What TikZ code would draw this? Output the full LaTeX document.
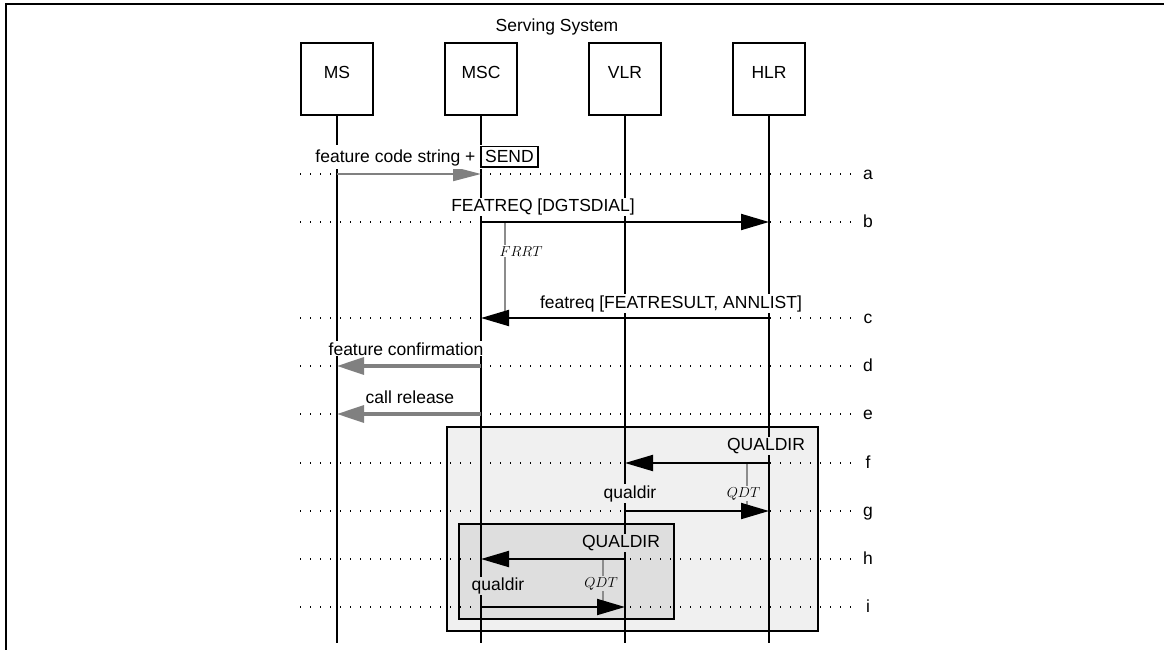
\documentclass[tikz,border=0pt]{standalone}
\usepackage{fontspec}
\setmainfont{Liberation Sans}
\usetikzlibrary{positioning,arrows.meta}

\definecolor{outerbg}{gray}{0.94}
\definecolor{innerbg}{gray}{0.87}
\definecolor{airgray}{gray}{0.5}
\definecolor{timergray}{gray}{0.55}

\begin{document}
\begin{tikzpicture}[
    x=1pt, y=-1pt,
    font=\fontsize{17.5}{20}\selectfont,
    entity/.style={
        draw,
        line width=2pt,
        minimum width=72pt,
        minimum height=72pt,
        text height=10pt,
        text depth=10pt
    },
    life/.style={line width=2pt},
    row/.style={line width=1.2pt, dash pattern=on 1.2pt off 8.8pt},
    rowlbl/.style={anchor=base, inner sep=0pt},
    msg/.style={line width=2pt, -{Triangle[length=28pt,width=16pt]}},
    air/.style={draw=airgray, line width=2pt, -{Triangle[length=28pt,width=14pt]}},
    airthick/.style={draw=airgray, line width=3.3pt, -{Triangle[length=27pt,width=17pt]}},
    lbl/.style={anchor=base, fill=white, inner sep=1pt},
    timer/.style={draw=timergray, line width=1.5pt},
    tlbl/.style={anchor=base, fill=white, inner sep=1pt, font=\fontsize{15}{17}\selectfont},
    area/.style={draw, line width=2pt}
]

\useasboundingbox (0,0) rectangle (1164,650);

%------------------------------------------------
% Frame and entities
%------------------------------------------------

\draw[line width=2.5pt] (6,650) -- (6,4) -- (1164,4);

\node[anchor=base] (sys) at (557,31.7) {Serving System};

\node[entity] (ms) at (337,79) {MS};
\node[entity,right=70pt of ms] (msc) {MSC};
\node[entity,right=70pt of msc] (vlr) {VLR};
\node[entity,right=70pt of vlr] (hlr) {HLR};

\coordinate (bottom) at (0,643);

%------------------------------------------------
% Qualification areas
%------------------------------------------------

\draw[area,fill=outerbg] (446.7,427) rectangle (817.7,631);
\draw[area,fill=innerbg] (459,524) rectangle (674,619);

%------------------------------------------------
% Rows
%------------------------------------------------

\foreach \r/\y in {a/174,b/222,c/318,d/366,e/414,f/463,g/511,h/559,i/607}
{
\coordinate (row-\r) at (300,\y);
\draw[row] (row-\r) -- (852,\y);
\node[rowlbl] (lbl-\r) at (868,\y+5) {\r};
}

\foreach \x in {ms,msc,vlr,hlr}
\draw[life] (\x.south) -- (\x.south |- bottom);

%------------------------------------------------
% Feature request
%------------------------------------------------

\coordinate (frrt) at (505,0);
\draw[timer] (frrt |- row-b) -- (frrt |- row-c);
\node[tlbl] (frrtlbl) at (521,256) {$FRRT$};

\draw[air] (ms |- row-a) -- (msc |- row-a);
\node[lbl] (m-a) at (427,162.7)
{feature code string + {\fboxsep=3.5pt\fboxrule=1.3pt\fbox{SEND}}};

\draw[msg] (msc |- row-b) -- (hlr |- row-b);
\node[lbl] (m-b) at (543,211.7) {FEATREQ [DGTSDIAL]};

\draw[msg] (hlr |- row-c) -- (msc |- row-c);
\node[lbl] (m-c) at (671,308) {featreq [FEATRESULT, ANNLIST]};

\draw[airthick] (msc |- row-d) -- (ms |- row-d);
\node[lbl] (m-d) at (406,355) {feature confirmation};

\draw[airthick] (msc |- row-e) -- (ms |- row-e);
\node[lbl] (m-e) at (410,403) {call release};

%------------------------------------------------
% Qualification directives
%------------------------------------------------

\coordinate (qdt1) at (747,0);
\draw[timer] (qdt1 |- row-f) -- (qdt1 |- row-g);
\node[tlbl,fill=outerbg] (qdt1lbl) at (743.5,497) {$QDT$};

\draw[msg] (hlr |- row-f) -- (vlr |- row-f);
\node[lbl,fill=outerbg] (m-f) at (766,450.7) {QUALDIR};

\draw[msg] (vlr |- row-g) -- (hlr |- row-g);
\node[lbl,fill=outerbg] (m-g) at (630,498) {qualdir};

\coordinate (qdt2) at (603,0);
\draw[timer] (qdt2 |- row-h) -- (qdt2 |- row-i);
\node[tlbl,fill=innerbg] (qdt2lbl) at (601,587) {$QDT$};

\draw[msg] (vlr |- row-h) -- (msc |- row-h);
\node[lbl,fill=innerbg] (m-h) at (621,547.3) {QUALDIR};

\draw[msg] (msc |- row-i) -- (vlr |- row-i);
\node[lbl,fill=innerbg] (m-i) at (498,590.7) {qualdir};

\end{tikzpicture}
\end{document}
